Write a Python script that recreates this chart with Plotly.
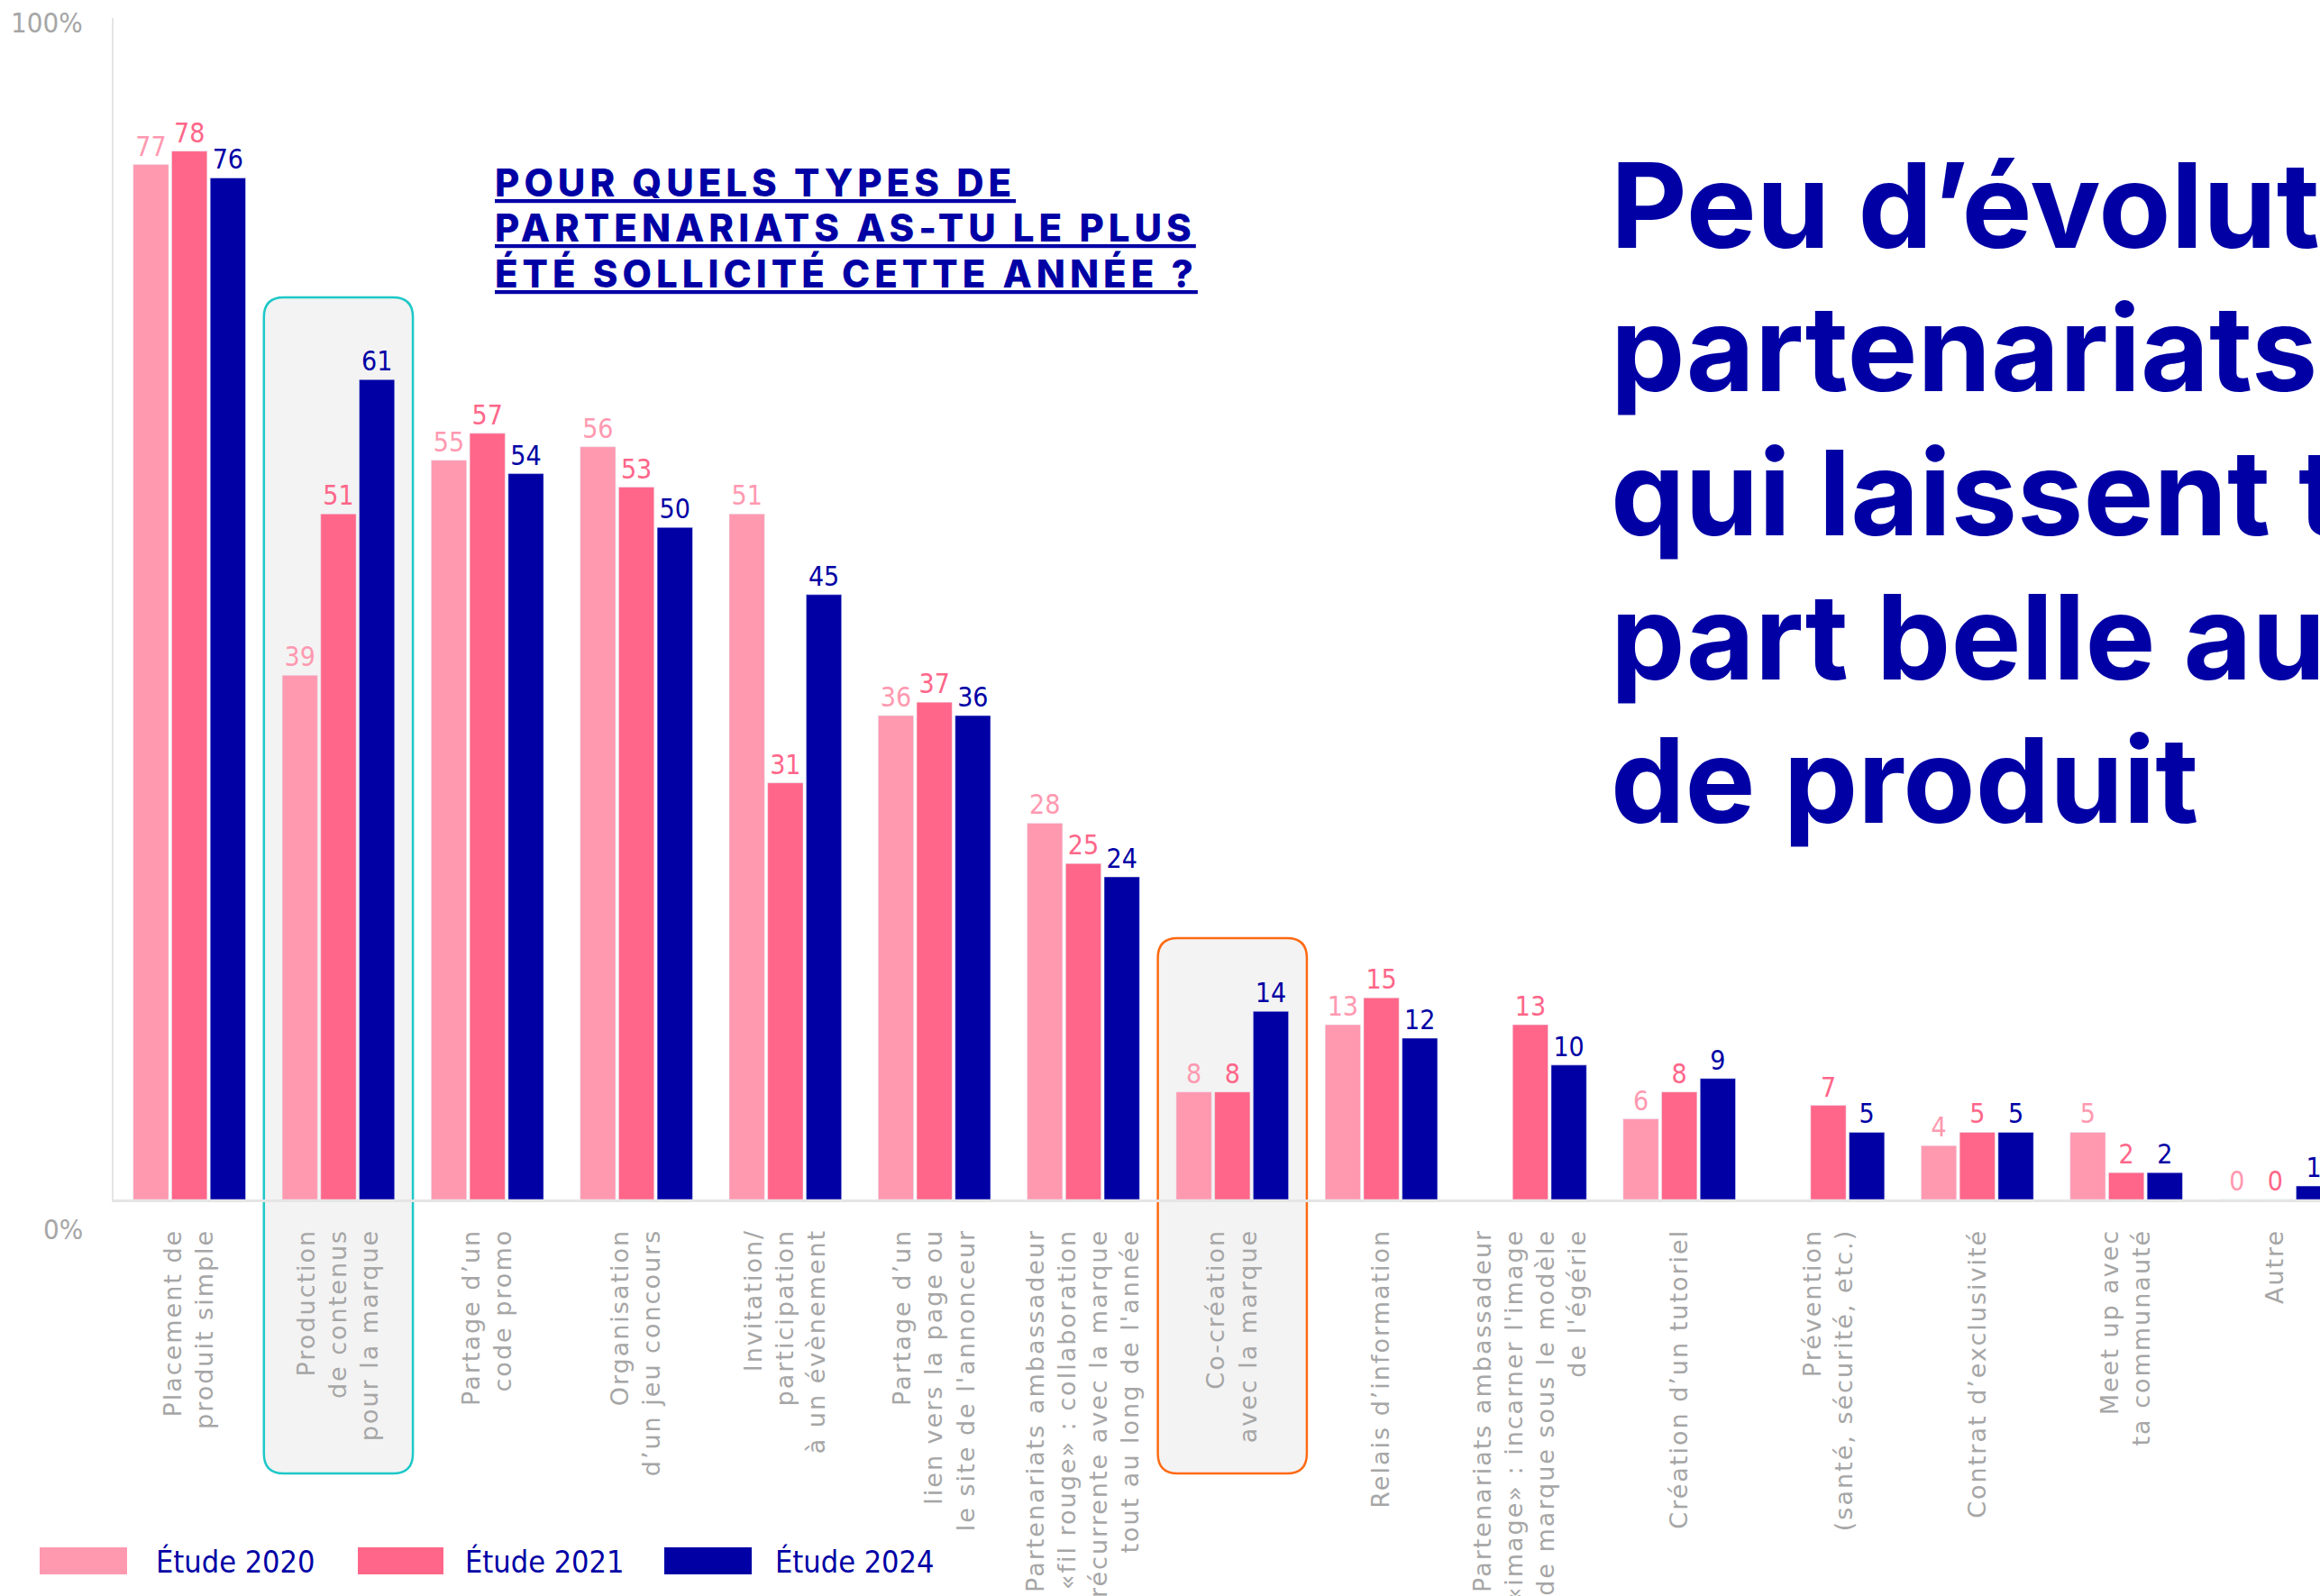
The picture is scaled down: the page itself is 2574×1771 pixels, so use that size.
import plotly.graph_objects as go

# ---- data -------------------------------------------------------------
categories = [
    "Placement de<br>produit simple",
    "Production<br>de contenus<br>pour la marque",
    "Partage d’un<br>code promo",
    "Organisation<br>d’un jeu concours",
    "Invitation/<br>participation<br>à un évènement",
    "Partage d’un<br>lien vers la page ou<br>le site de l'annonceur",
    "Partenariats ambassadeur<br>«fil rouge» : collaboration<br>récurrente avec la marque<br>tout au long de l'année",
    "Co-création<br>avec la marque",
    "Relais d’information",
    "Partenariats ambassadeur<br>«image» : incarner l'image<br>de marque sous le modèle<br>de l'égérie",
    "Création d’un tutoriel",
    "Prévention<br>(santé, sécurité, etc.)",
    "Contrat d’exclusivité",
    "Meet up avec<br>ta communauté",
    "Autre",
]
series_names = ["Étude 2020", "Étude 2021", "Étude 2024"]
etude_2020 = [77, 39, 55, 56, 51, 36, 28, 8, 13, None, 6, None, 4, 5, 0]
etude_2021 = [78, 51, 57, 53, 31, 37, 25, 8, 15, 13, 8, 7, 5, 2, 0]
etude_2024 = [76, 61, 54, 50, 45, 36, 24, 14, 12, 10, 9, 5, 5, 2, 1]
colors = ["#ff99b0", "#ff6689", "#0000a5"]

question = ["POUR QUELS TYPES DE", "PARTENARIATS AS-TU LE PLUS",
            "ÉTÉ SOLLICITÉ CETTE ANNÉE ?"]
headline = ["Peu d’évolution des", "partenariats,", "qui laissent toujours la",
            "part belle au placement", "de produit"]

# ---- layout helpers ---------------------------------------------------
W, H = 2574, 1771
L, T, B = 126, 20, 440
plot_w = W - L
plot_h = H - T - B
x_range = [-0.509, 14.30]
y_range = [0, 87.9]

BLUE = "#0000a5"
GREY = "#a6a6a6"
COND = "Liberation Sans Narrow, DejaVu Sans Condensed, Roboto, sans-serif"
WIDE = "DejaVu Sans, Verdana, sans-serif"
INTER = "Inter, Roboto, sans-serif"


def px(xp):
    return (xp - L) / plot_w


def py(yp):
    return (H - B - yp) / plot_h


def cat_x(i):
    return (i - x_range[0]) / (x_range[1] - x_range[0])


def rounded_box(x0, x1, y0, y1, r=22):
    rx, ry = r / plot_w, r / plot_h
    return (f"M{x0 + rx},{y1} L{x1 - rx},{y1} Q{x1},{y1} {x1},{y1 - ry} "
            f"L{x1},{y0 + ry} Q{x1},{y0} {x1 - rx},{y0} "
            f"L{x0 + rx},{y0} Q{x0},{y0} {x0},{y0 + ry} "
            f"L{x0},{y1 - ry} Q{x0},{y1} {x0 + rx},{y1} Z")


def spaced(label, sp):
    return "<br>".join(f'<span style="letter-spacing:{sp}px">{s}</span>'
                       for s in label.split("<br>"))


# ---- traces -----------------------------------------------------------
fig = go.Figure()
for name, vals, col in zip(series_names, [etude_2020, etude_2021, etude_2024], colors):
    fig.add_trace(go.Bar(
        x=categories, y=vals, name=name, marker_color=col,
        text=["" if v is None else str(v) for v in vals],
        textposition="outside", cliponaxis=False, constraintext="none",
        textfont=dict(family=COND, size=30, color=col),
        hoverinfo="skip", showlegend=False))

# highlight boxes behind two categories
shapes = []
for idx, col, top in [(1, "#1ec8c8", 330), (7, "#ff6a13", 1041)]:
    shapes.append(dict(
        type="path", xref="paper", yref="paper", layer="below",
        path=rounded_box(cat_x(idx - 0.5), cat_x(idx + 0.5), py(1635), py(top)),
        fillcolor="#f3f3f3", line=dict(color=col, width=2.5)))

annotations = []
# 100% / 0% labels
for txt, yy in [("100%", 25), ("0%", 1364)]:
    annotations.append(dict(text=txt, x=px(94), y=py(yy), xref="paper", yref="paper",
                            xanchor="right", yanchor="middle", showarrow=False,
                            font=dict(family=COND, size=31, color=GREY)))

# question, one annotation per line
for i, line in enumerate(question):
    annotations.append(dict(
        text=f'<span style="letter-spacing:5px;text-decoration:underline">{line}</span>',
        x=px(547), y=py(202 + 51 * i), xref="paper", yref="paper",
        xanchor="left", yanchor="middle", align="left", showarrow=False,
        font=dict(family=INTER, size=42, color=BLUE, weight=800)))

# headline (runs off the right edge like the original)
for i, line in enumerate(headline):
    annotations.append(dict(
        text=line, x=px(1785), y=py(227 + 159.7 * i), xref="paper", yref="paper",
        xanchor="left", yanchor="middle", align="left", showarrow=False,
        font=dict(family=INTER, size=131, color=BLUE, weight=700)))

# custom legend
legend_pos = [(44, 141, 171), (397, 492, 514), (737, 834, 858)]
for (s0, s1, tx), name, col in zip(legend_pos, series_names, colors):
    shapes.append(dict(type="rect", xref="paper", yref="paper",
                       x0=px(s0), x1=px(s1), y0=py(1747), y1=py(1717),
                       fillcolor=col, line=dict(width=0)))
    annotations.append(dict(text=name, x=px(tx), y=py(1733), xref="paper", yref="paper",
                            xanchor="left", yanchor="middle", showarrow=False,
                            font=dict(family=COND, size=34, color=BLUE)))

fig.update_layout(
    width=W, height=H,
    margin=dict(l=L, r=0, t=T, b=B, pad=0),
    paper_bgcolor="white", plot_bgcolor="rgba(0,0,0,0)",
    barmode="group", bargap=0.225, bargroupgap=0.08,
    shapes=shapes, annotations=annotations,
    showlegend=False,
)
fig.update_xaxes(range=x_range, automargin=False,
                 showline=True, linecolor="#e5e5e5", linewidth=3,
                 showgrid=False, zeroline=False, ticks="", tickangle=-90,
                 ticklabelstandoff=19,
                 tickmode="array", tickvals=categories,
                 ticktext=[spaced(c, 2) for c in categories],
                 tickfont=dict(family=WIDE, size=27, color=GREY))
fig.update_yaxes(range=y_range, automargin=False,
                 showline=True, linecolor="#e5e5e5", linewidth=2,
                 showgrid=False, zeroline=False, showticklabels=False, ticks="")

# drop the page's default body margin so the figure fills the window
fig.write_html("out.html", config={"displayModeBar": False},
               post_script="document.body.style.margin='0';"
                           "document.body.style.overflow='hidden';")
